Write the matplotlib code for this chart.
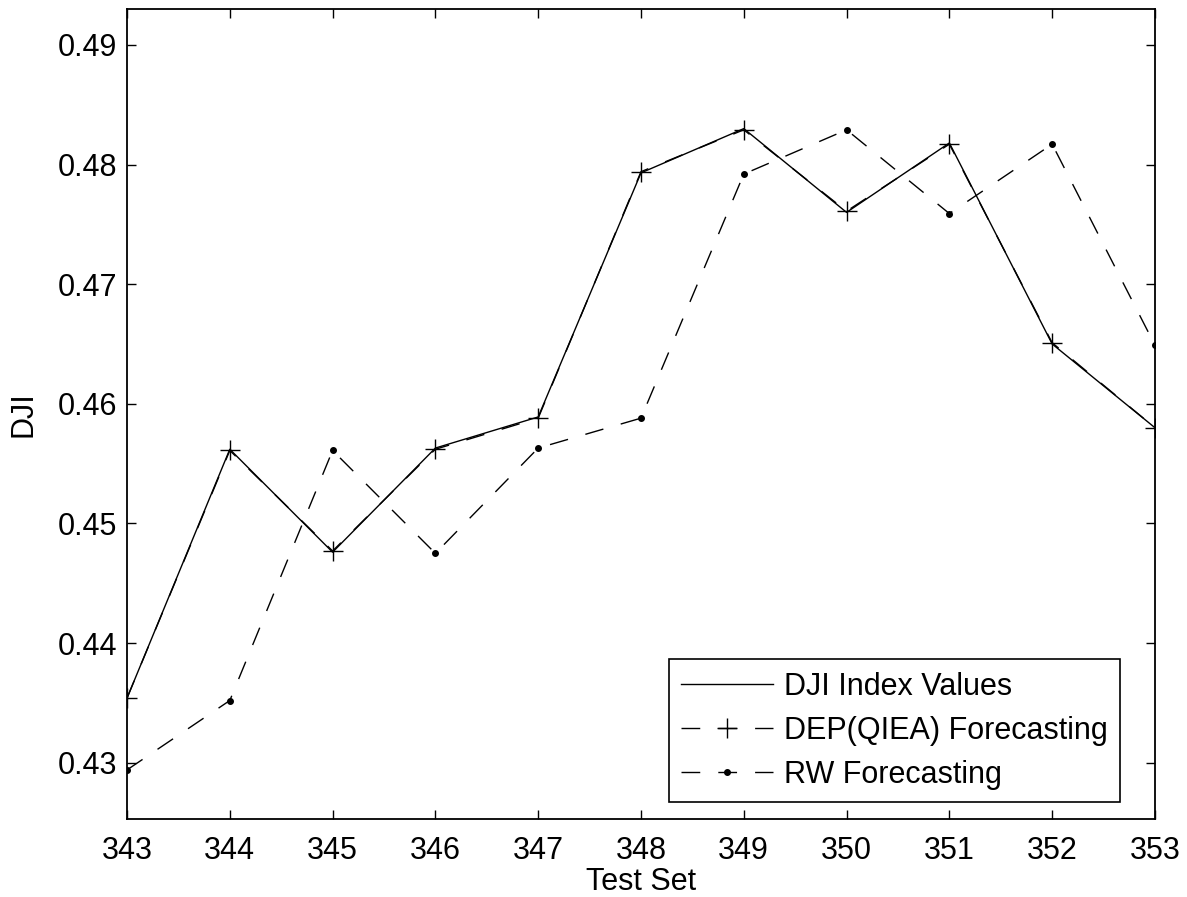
import numpy as np
import matplotlib
matplotlib.use("Agg")
import matplotlib.pyplot as plt

plt.rcParams['font.family'] = ['Liberation Sans', 'DejaVu Sans']

# ===== DATA =====
test_set = [343, 344, 345, 346, 347, 348, 349, 350, 351, 352, 353]
dji_vals = [0.4354, 0.4562, 0.4476, 0.4563, 0.4589, 0.4793, 0.4830, 0.4760, 0.4818, 0.4650, 0.4580]
dep_vals = [0.4354, 0.4561, 0.4477, 0.4562, 0.4588, 0.4794, 0.4829, 0.4761, 0.4817, 0.4651, 0.4580]
rw_vals = [0.4294, 0.4352, 0.4561, 0.4475, 0.4563, 0.4588, 0.4792, 0.4829, 0.4759, 0.4817, 0.4649]
y_ticks = [0.43, 0.44, 0.45, 0.46, 0.47, 0.48, 0.49]

fig = plt.figure(figsize=(11.87, 8.97), dpi=100)
ax = fig.add_axes([0.107, 0.087, 0.866, 0.903])

ax.plot(test_set, dji_vals, color='black', lw=1.0, label='DJI Index Values')
ax.plot(test_set, dep_vals, color='black', lw=1.0, dashes=(13.5, 13), marker='+',
        markersize=14, markeredgewidth=1.0, label='DEP(QIEA) Forecasting')
ax.plot(test_set, rw_vals, color='black', lw=1.0, dashes=(13.5, 13), marker='o',
        markersize=4, label='RW Forecasting')

ax.set_xlim(343, 353)
ax.set_ylim(0.4253, 0.4930)
ax.set_xticks(test_set)
ax.set_yticks(y_ticks)
ax.set_yticklabels([f"{v:.2f}" for v in y_ticks])

ax.tick_params(direction='in', length=6.5, width=1.0, top=True, right=True,
               labelsize=22)
ax.tick_params(axis='x', pad=12)
ax.tick_params(axis='y', pad=7)
for s in ax.spines.values():
    s.set_linewidth(1.3)

ax.set_xlabel('Test Set', fontsize=22, labelpad=1)
ax.set_ylabel('DJI', fontsize=22, labelpad=14)

# legend box: right edge ~1120 px, bottom ~802 px in the reference
leg = ax.legend(loc='lower right', bbox_to_anchor=(1120 / 1187, 1 - 802 / 897),
                bbox_transform=fig.transFigure, borderaxespad=0,
                fontsize=22, numpoints=1, handlelength=3.0,
                handletextpad=0.36, labelspacing=0.46, borderpad=0.4,
                fancybox=False, framealpha=1, edgecolor='black')
leg.get_frame().set_linewidth(1.2)

fig.savefig('out.png', dpi=100)
